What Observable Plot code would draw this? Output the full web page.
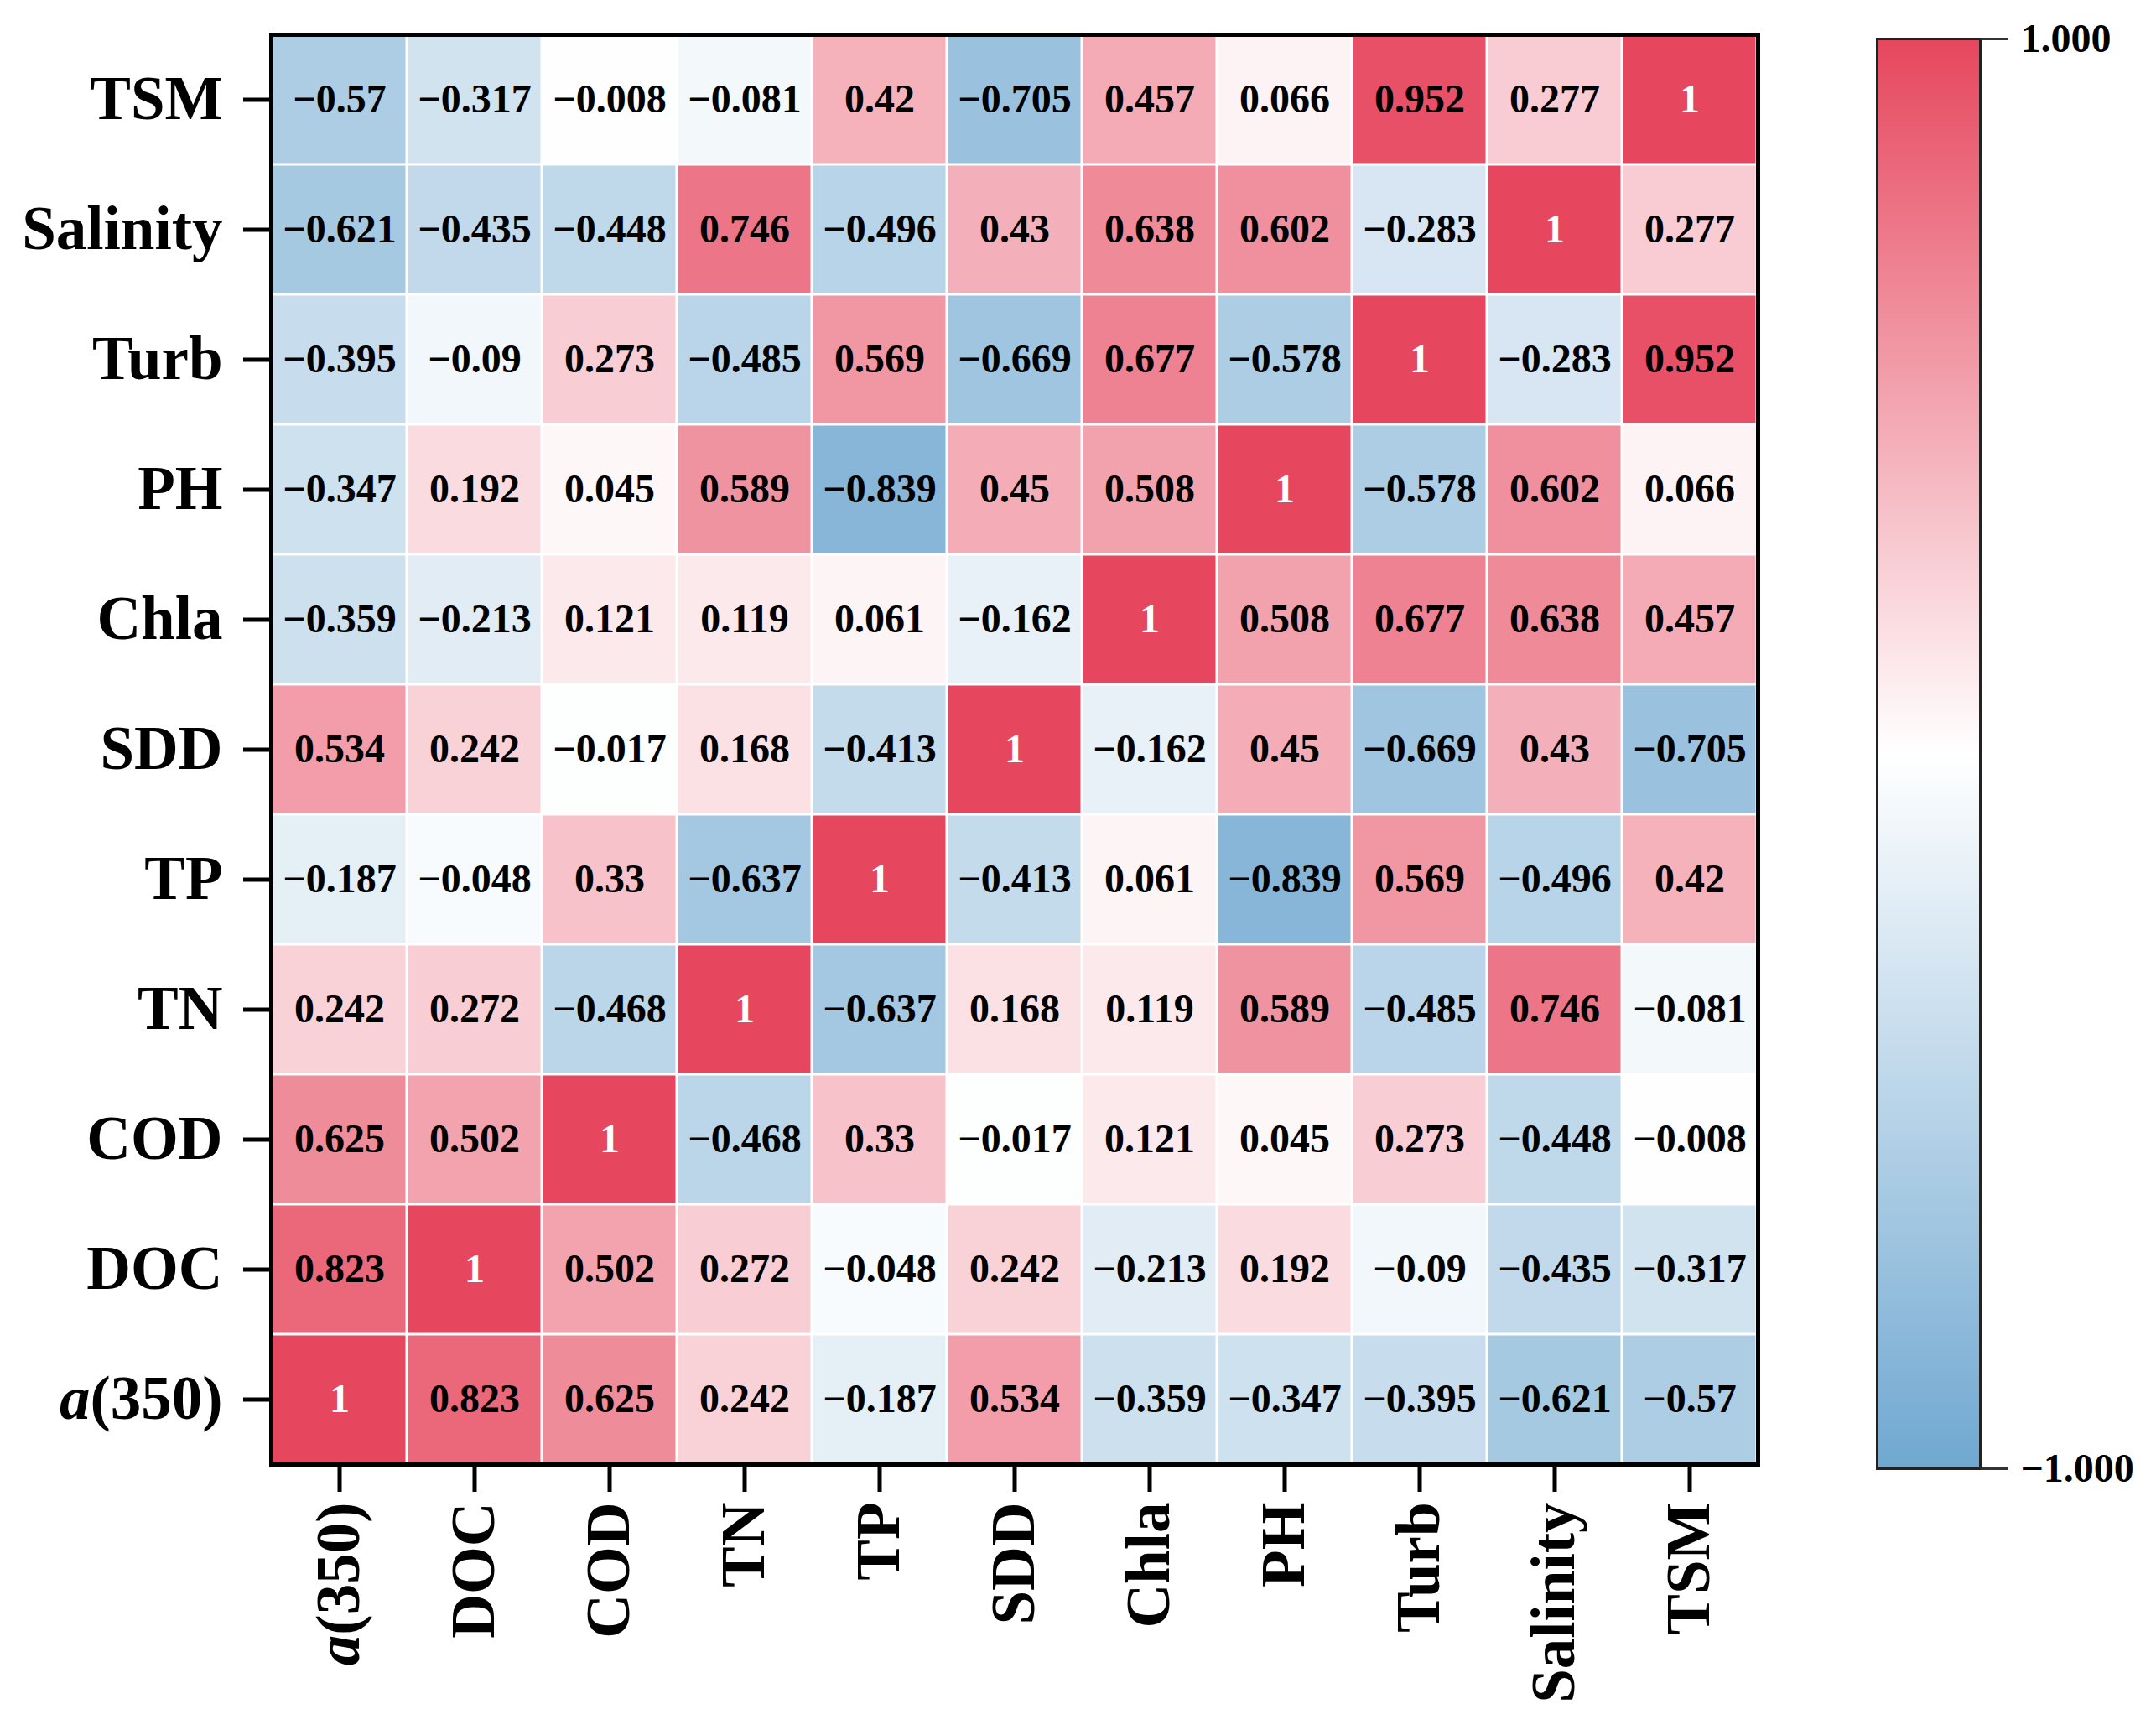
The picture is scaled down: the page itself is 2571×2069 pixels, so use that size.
<!DOCTYPE html>
<html>
<head>
<meta charset="utf-8">
<script src="https://cdn.jsdelivr.net/npm/d3@7"></script>
<script src="https://cdn.jsdelivr.net/npm/@observablehq/plot@0.6"></script>
<style>
  html, body { margin: 0; padding: 0; background: #ffffff; overflow: hidden; }
  #wrap { position: relative; width: 2571px; height: 2069px; background: #ffffff; }
  #wrap svg { position: absolute; top: 0; }
</style>
</head>
<body>
<div id="wrap"></div>
<script>
// Variables (column order left→right; rows are shown in reverse, TSM on top)
const variables = ["a(350)", "DOC", "COD", "TN", "TP", "SDD", "Chla", "PH", "Turb", "Salinity", "TSM"];

// Correlation values, one array per variable, in the order of `variables`
const rA350     = [1, 0.823, 0.625, 0.242, -0.187, 0.534, -0.359, -0.347, -0.395, -0.621, -0.57];
const rDOC      = [0.823, 1, 0.502, 0.272, -0.048, 0.242, -0.213, 0.192, -0.09, -0.435, -0.317];
const rCOD      = [0.625, 0.502, 1, -0.468, 0.33, -0.017, 0.121, 0.045, 0.273, -0.448, -0.008];
const rTN       = [0.242, 0.272, -0.468, 1, -0.637, 0.168, 0.119, 0.589, -0.485, 0.746, -0.081];
const rTP       = [-0.187, -0.048, 0.33, -0.637, 1, -0.413, 0.061, -0.839, 0.569, -0.496, 0.42];
const rSDD      = [0.534, 0.242, -0.017, 0.168, -0.413, 1, -0.162, 0.45, -0.669, 0.43, -0.705];
const rChla     = [-0.359, -0.213, 0.121, 0.119, 0.061, -0.162, 1, 0.508, 0.677, 0.638, 0.457];
const rPH       = [-0.347, 0.192, 0.045, 0.589, -0.839, 0.45, 0.508, 1, -0.578, 0.602, 0.066];
const rTurb     = [-0.395, -0.09, 0.273, -0.485, 0.569, -0.669, 0.677, -0.578, 1, -0.283, 0.952];
const rSalinity = [-0.621, -0.435, -0.448, 0.746, -0.496, 0.43, 0.638, 0.602, -0.283, 1, 0.277];
const rTSM      = [-0.57, -0.317, -0.008, -0.081, 0.42, -0.705, 0.457, 0.066, 0.952, 0.277, 1];

// Colour bar tick values
const colorbarTicks = [-1, 1];

const rowsByVar = [rA350, rDOC, rCOD, rTN, rTP, rSDD, rChla, rPH, rTurb, rSalinity, rTSM];
const table = [];
variables.forEach((rowName, i) => {
  rowsByVar[i].forEach((v, j) => table.push({row: rowName, col: variables[j], v}));
});

const fmt = v => String(v).replace("-", "\u2212");
const colorOpts = {
  type: "linear",
  domain: [-1, 0, 1],
  range: ["#70a8d1", "#ffffff", "#e6475e"],
  interpolate: "rgb"
};
const fontFamily = "'Liberation Serif', 'Times New Roman', serif";

const heat = Plot.plot({
  width: 2571,
  height: 2069,
  marginLeft: 323,
  marginRight: 475,
  marginTop: 41,
  marginBottom: 323,
  x: {domain: variables, padding: 0, label: null},
  y: {domain: [...variables].reverse(), padding: 0, label: null},
  color: colorOpts,
  style: {fontFamily, fontWeight: "bold", background: "white", color: "black"},
  marks: [
    Plot.cell(table, {x: "col", y: "row", fill: "v", inset: 1.5}),
    Plot.text(table.filter(d => d.v !== 1), {x: "col", y: "row", text: d => fmt(d.v), fill: "black", fontSize: 48, fontWeight: "bold"}),
    Plot.text(table.filter(d => d.v === 1), {x: "col", y: "row", text: d => fmt(d.v), fill: "white", fontSize: 48, fontWeight: "bold"}),
    Plot.frame({stroke: "black", strokeWidth: 5}),
    Plot.axisX({anchor: "bottom", tickRotate: -90, tickSize: 33, tickPadding: 12, strokeWidth: 5, fontSize: 73, label: null}),
    Plot.axisY({anchor: "left", tickSize: 33, tickPadding: 25, strokeWidth: 5, fontSize: 73, label: null})
  ]
});
heat.style.left = "0px";

const barMarks = [];
if (Plot.raster) {
  barMarks.push(Plot.raster({x1: 0, x2: 1, y1: -1, y2: 1, fill: (x, y) => y, pixelSize: 1}));
}
barMarks.push(
  Plot.frame({stroke: "#222", strokeWidth: 3}),
  Plot.axisY({anchor: "right", ticks: colorbarTicks, tickFormat: d3.format(".3f"), tickSize: 33, tickPadding: 15, stroke: "#333", strokeWidth: 3, fontSize: 48, label: null})
);

const bar = Plot.plot({
  width: 371,
  height: 2069,
  marginLeft: 38,
  marginRight: 210,
  marginTop: 46,
  marginBottom: 318,
  x: {domain: [0, 1], axis: null},
  y: {domain: [-1, 1], label: null},
  color: colorOpts,
  style: {fontFamily, fontWeight: "bold", background: "transparent", color: "black"},
  marks: barMarks
});
bar.style.left = "2200px";

const wrap = document.getElementById("wrap");
wrap.appendChild(heat);
wrap.appendChild(bar);

// italic "a" in a(350)
d3.select(heat).selectAll("text").each(function() {
  if (this.textContent === "a(350)") {
    const t = d3.select(this);
    t.text(null);
    t.append("tspan").attr("font-style", "italic").text("a");
    t.append("tspan").text("(350)");
  }
});
</script>
</body>
</html>
